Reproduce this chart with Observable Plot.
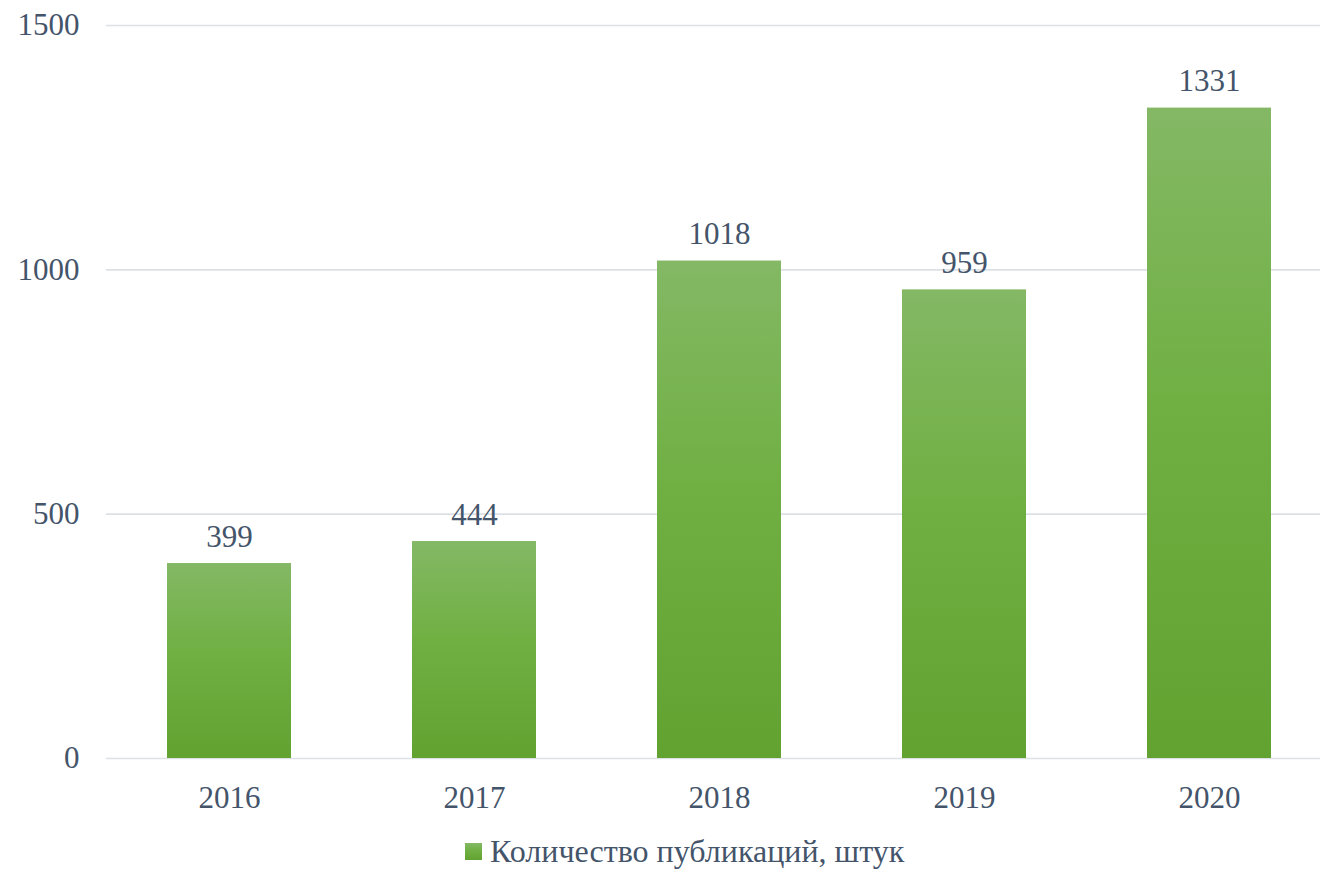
<!DOCTYPE html>
<html>
<head>
<meta charset="utf-8">
<script src="https://cdn.jsdelivr.net/npm/d3@7"></script>
<script src="https://cdn.jsdelivr.net/npm/@observablehq/plot@0.6"></script>
<style>
  html, body { margin: 0; padding: 0; background: #fff; }
  #legend { display: flex; align-items: center; margin-left: 465px; height: 43px;
    font-family: "Liberation Serif"; font-size: 32px; color: #44546a; }
  #legend .sw { width: 17px; height: 17px; margin-right: 8px;
    background: linear-gradient(#84b865, #70b043 45%, #62a231); }
</style>
</head>
<body>
<div id="chart"></div>
<div id="legend"><span class="sw"></span><span id="legendText"></span></div>
<script>
const years = ["2016", "2017", "2018", "2019", "2020"];
const counts = [399, 444, 1018, 959, 1331];
const yTicks = [0, 500, 1000, 1500];
const seriesName = "Количество публикаций, штук";

document.getElementById("legendText").textContent = seriesName;

const data = years.map((y, i) => ({year: y, value: counts[i]}));
const textColor = "#44546a";
const font = "Liberation Serif";

const chart = Plot.plot({
  width: 1320,
  height: 830,
  marginTop: 25,
  marginBottom: 72,
  marginLeft: 106,
  marginRight: 0,
  style: {fontFamily: font, fontSize: "31px", color: textColor, background: "#fff"},
  x: {domain: years, range: [106, 1332], paddingInner: 0.494, paddingOuter: 0.247, align: 0.5},
  y: {domain: [0, 1500], range: [758, 25]},
  marks: [
    Plot.ruleY(yTicks, {stroke: "#dde1e7", strokeWidth: 1.6}),
    Plot.barY(data, {x: "year", y: "value", fill: "url(#barGrad)"}),
    Plot.text(data, {x: "year", y: "value", text: d => String(d.value), dy: -17, lineAnchor: "bottom", fill: textColor, fontSize: 31}),
    Plot.axisY(yTicks, {tickSize: 0, tickPadding: 27, label: null, fontSize: 31, fill: textColor, tickFormat: d => String(d)}),
    Plot.axisX({tickSize: 0, tickPadding: 27, label: null, fontSize: 31, fill: textColor})
  ]
});

const svg = d3.select(chart);
svg.selectAll("text").style("font-family", "'Liberation Serif'");
const defs = svg.insert("defs", ":first-child");
const g = defs.append("linearGradient").attr("id", "barGrad").attr("x1", 0).attr("y1", 0).attr("x2", 0).attr("y2", 1);
g.append("stop").attr("offset", "0%").attr("stop-color", "#84b865");
g.append("stop").attr("offset", "45%").attr("stop-color", "#70b043");
g.append("stop").attr("offset", "100%").attr("stop-color", "#62a231");

document.getElementById("chart").appendChild(chart);
</script>
</body>
</html>
